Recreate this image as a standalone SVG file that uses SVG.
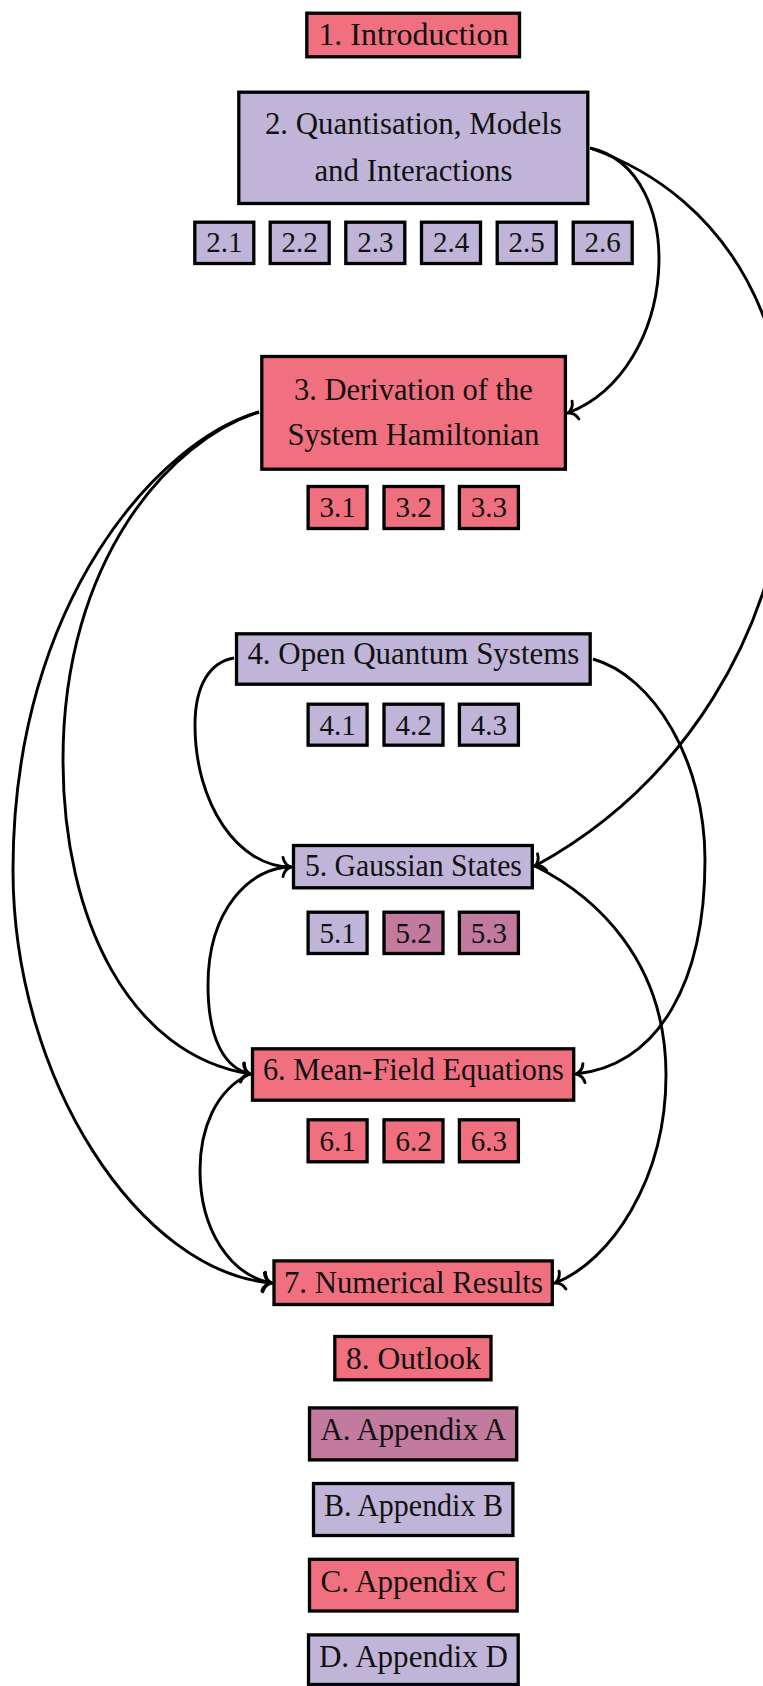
<svg xmlns="http://www.w3.org/2000/svg" width="763" height="1686" viewBox="0 0 763 1686">
<style>
.n rect{stroke:#000;stroke-width:3.3}
.p{fill:#F07080}
.l{fill:#C0B5D8}
.m{fill:#C27A9E}
text{font-family:"Liberation Serif","DejaVu Serif",serif;fill:#111;text-anchor:middle}
.t{font-size:32px}
.s{font-size:29px}
.e path{fill:none;stroke:#000;stroke-width:2.9}
</style>
<defs>
<marker id="arr" markerUnits="userSpaceOnUse" markerWidth="20" markerHeight="24" refX="0" refY="0" orient="auto" overflow="visible">
<path d="M-8,-9.5 C-7,-4 -3,-1 0,0 C-3,1 -7,4 -8,9.5" fill="none" stroke="#000" stroke-width="2.9" stroke-linecap="round"/>
</marker>
</defs>
<g class="e" id="connectors">
<path d="M590,148 C690,170 680,370 568,413" marker-end="url(#arr)"/>
<path d="M590,148 C880,250 840,700 535,866" marker-end="url(#arr)"/>
<path d="M259,412 C170,440 63,560 63,760 C63,920 130,1055 250,1074" marker-end="url(#arr)"/>
<path d="M259,412 C160,440 13,600 13,870 C13,1080 140,1272 271.5,1283" marker-end="url(#arr)"/>
<path d="M234,658 C210,662 195,685 195,725 C195,804 238,867 291,867" marker-end="url(#arr)"/>
<path d="M593,659 C653,676 705,760 705,860 C705,980 660,1065 576,1074" marker-end="url(#arr)"/>
<path d="M291,867 C250,867 208,910 208,985 C208,1040 225,1068 250,1074" marker-end="url(#arr)"/>
<path d="M535,866 C595,896 666,960 666,1075 C666,1180 610,1262 555,1283" marker-end="url(#arr)"/>
<path d="M250,1074 C215,1090 200,1130 200,1170 C200,1230 230,1275 271.5,1283" marker-end="url(#arr)"/>
</g>
<g class="n" id="n1"><rect class="p" x="306.8" y="13.2" width="212.7" height="43.6"/><text class="t" x="413.4" y="45" textLength="190" lengthAdjust="spacingAndGlyphs">1. Introduction</text></g>
<g class="n" id="n2"><rect class="l" x="238.8" y="92.2" width="349" height="111.3"/><text class="t" x="413.4" y="134" textLength="297" lengthAdjust="spacingAndGlyphs">2. Quantisation, Models</text><text class="t" x="413.4" y="181" textLength="198" lengthAdjust="spacingAndGlyphs">and Interactions</text></g>
<g class="n" id="n2_1"><rect class="l" x="194.8" y="222.2" width="59" height="41.3"/><text class="s" x="224.3" y="252">2.1</text></g>
<g class="n" id="n2_2"><rect class="l" x="270.2" y="222.2" width="59" height="41.3"/><text class="s" x="299.7" y="252">2.2</text></g>
<g class="n" id="n2_3"><rect class="l" x="345.8" y="222.2" width="59" height="41.3"/><text class="s" x="375.3" y="252">2.3</text></g>
<g class="n" id="n2_4"><rect class="l" x="421.5" y="222.2" width="59" height="41.3"/><text class="s" x="451" y="252">2.4</text></g>
<g class="n" id="n2_5"><rect class="l" x="497.2" y="222.2" width="59" height="41.3"/><text class="s" x="526.7" y="252">2.5</text></g>
<g class="n" id="n2_6"><rect class="l" x="573.2" y="222.2" width="59" height="41.3"/><text class="s" x="602.7" y="252">2.6</text></g>
<g class="n" id="n3"><rect class="p" x="261.8" y="356.5" width="303.6" height="112.7"/><text class="t" x="413.4" y="400" textLength="239" lengthAdjust="spacingAndGlyphs">3. Derivation of the</text><text class="t" x="413.4" y="445" textLength="252" lengthAdjust="spacingAndGlyphs">System Hamiltonian</text></g>
<g class="n" id="n3_1"><rect class="p" x="308.1" y="486.5" width="59" height="42"/><text class="s" x="337.6" y="517">3.1</text></g>
<g class="n" id="n3_2"><rect class="p" x="384" y="486.5" width="59" height="42"/><text class="s" x="413.5" y="517">3.2</text></g>
<g class="n" id="n3_3"><rect class="p" x="459.4" y="486.5" width="59" height="42"/><text class="s" x="488.9" y="517">3.3</text></g>
<g class="n" id="n4"><rect class="l" x="236.5" y="633.8" width="353.7" height="50.4"/><text class="t" x="413.4" y="664" textLength="332" lengthAdjust="spacingAndGlyphs">4. Open Quantum Systems</text></g>
<g class="n" id="n4_1"><rect class="l" x="308.1" y="704.2" width="59" height="41"/><text class="s" x="337.6" y="735">4.1</text></g>
<g class="n" id="n4_2"><rect class="l" x="384" y="704.2" width="59" height="41"/><text class="s" x="413.5" y="735">4.2</text></g>
<g class="n" id="n4_3"><rect class="l" x="459.4" y="704.2" width="59" height="41"/><text class="s" x="488.9" y="735">4.3</text></g>
<g class="n" id="n5"><rect class="l" x="293.5" y="845.5" width="238.8" height="42.3"/><text class="t" x="413.4" y="876" textLength="217" lengthAdjust="spacingAndGlyphs">5. Gaussian States</text></g>
<g class="n" id="n5_1"><rect class="l" x="308.1" y="912.2" width="59" height="41.3"/><text class="s" x="337.6" y="943">5.1</text></g>
<g class="n" id="n5_2"><rect class="m" x="384" y="912.2" width="59" height="41.3"/><text class="s" x="413.5" y="943">5.2</text></g>
<g class="n" id="n5_3"><rect class="m" x="459.4" y="912.2" width="59" height="41.3"/><text class="s" x="488.9" y="943">5.3</text></g>
<g class="n" id="n6"><rect class="p" x="252.5" y="1048.8" width="321.2" height="51.4"/><text class="t" x="413.4" y="1080" textLength="301" lengthAdjust="spacingAndGlyphs">6. Mean-Field Equations</text></g>
<g class="n" id="n6_1"><rect class="p" x="308.1" y="1119.8" width="59" height="42"/><text class="s" x="337.6" y="1150.5">6.1</text></g>
<g class="n" id="n6_2"><rect class="p" x="384" y="1119.8" width="59" height="42"/><text class="s" x="413.5" y="1150.5">6.2</text></g>
<g class="n" id="n6_3"><rect class="p" x="459.4" y="1119.8" width="59" height="42"/><text class="s" x="488.9" y="1150.5">6.3</text></g>
<g class="n" id="n7"><rect class="p" x="274" y="1260.9" width="278.3" height="43.6"/><text class="t" x="413.4" y="1292.5" textLength="259" lengthAdjust="spacingAndGlyphs">7. Numerical Results</text></g>
<g class="n" id="n8"><rect class="p" x="334.8" y="1336.5" width="156.2" height="43.3"/><text class="t" x="413.4" y="1369" textLength="135" lengthAdjust="spacingAndGlyphs">8. Outlook</text></g>
<g class="n" id="nA"><rect class="m" x="309.5" y="1407.9" width="207.2" height="52"/><text class="t" x="413.4" y="1440" textLength="186" lengthAdjust="spacingAndGlyphs">A. Appendix A</text></g>
<g class="n" id="nB"><rect class="l" x="313.5" y="1483.5" width="199.4" height="52"/><text class="t" x="413.4" y="1516" textLength="179" lengthAdjust="spacingAndGlyphs">B. Appendix B</text></g>
<g class="n" id="nC"><rect class="p" x="309.5" y="1559.3" width="207.7" height="51.7"/><text class="t" x="413.4" y="1591.6" textLength="186" lengthAdjust="spacingAndGlyphs">C. Appendix C</text></g>
<g class="n" id="nD"><rect class="l" x="308.5" y="1634.9" width="209.7" height="49.6"/><text class="t" x="413.4" y="1667" textLength="189" lengthAdjust="spacingAndGlyphs">D. Appendix D</text></g>
</svg>
